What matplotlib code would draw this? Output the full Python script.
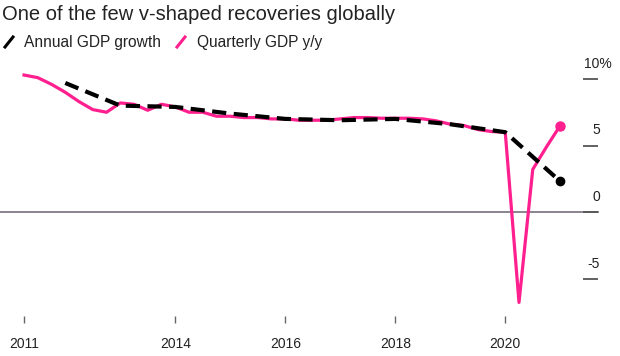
import matplotlib
matplotlib.use("Agg")
import matplotlib.pyplot as plt
from matplotlib.lines import Line2D
import numpy as np

plt.rcParams['font.family'] = ['Liberation Sans', 'DejaVu Sans']

# ---- data ----
quarter_years = [2011]*4 + [2012]*4 + [2013]*4 + [2014]*4 + [2015]*4 + [2016]*4 + \
                [2017]*4 + [2018]*4 + [2019]*4 + [2020]*4
quarter_num = [1, 2, 3, 4] * 10
quarterly_gdp = [10.3, 10.1, 9.6, 9.0,
                 8.3, 7.7, 7.5, 8.2,
                 8.1, 7.65, 8.1, 7.9,
                 7.5, 7.5, 7.2, 7.2,
                 7.1, 7.1, 7.0, 7.0,
                 6.9, 6.9, 6.9, 7.0,
                 7.1, 7.1, 7.05, 7.05,
                 7.05, 7.0, 6.85, 6.6,
                 6.5, 6.2, 6.05, 6.0,
                 -6.8, 3.2, 4.9, 6.5]
annual_years = [2011, 2012, 2013, 2014, 2015, 2016, 2017, 2018, 2019, 2020]
annual_gdp = [9.7, 8.0, 7.9, 7.4, 7.0, 6.9, 7.0, 6.6, 6.0, 2.3]
xtick_pos = [2011.25, 2014, 2016, 2018, 2020]
xtick_labels = ['2011', '2014', '2016', '2018', '2020']
ytick_vals = [10, 5, 0, -5]
ytick_labels = ['10%', '5', '0', '-5']

PINK = '#ff1f8f'
TXT = '#222222'

# quarter-end / year-end positions
qx = np.array(quarter_years) + np.array(quarter_num) * 0.25
ax_x = np.array(annual_years) + 1.0

W, H = 620, 356
fig = plt.figure(figsize=(W/100, H/100), dpi=100)
ax_bottom_px = 316
ax = fig.add_axes([0, (H - ax_bottom_px) / H, 1, ax_bottom_px / H])
ax.set_facecolor('none')
fig.patch.set_facecolor('white')

pxu = 55.0  # px per year
x0 = 2011.25 - 24 / pxu
ax.set_xlim(x0, x0 + W / pxu)
ppu = 13.3  # px per pct
ax.set_ylim(-(ax_bottom_px - 212) / ppu, 212 / ppu)

for s in ax.spines.values():
    s.set_visible(False)

# zero line
zero_end = (598) / W
ax.axhline(0, xmin=0, xmax=zero_end, color='#8a8490', lw=1.4, zorder=1)

# y tick marks + labels on right
ytr = ax.get_yaxis_transform()
for v, lab in zip(ytick_vals, ytick_labels):
    ax.plot([583 / W, 598 / W], [v, v], transform=ytr, color='#555555', lw=1.3,
            solid_capstyle='butt', clip_on=False)
    if lab.endswith('%'):
        ax.text(584 / W, v + 15 / ppu, lab, transform=ytr, ha='left', va='center',
                fontsize=10, color=TXT)
    else:
        ax.text(600 / W, v + 15 / ppu, lab, transform=ytr, ha='right', va='center',
                fontsize=10, color=TXT)
ax.set_yticks([])

# lines
ax.plot(qx, quarterly_gdp, color=PINK, lw=2.3, zorder=3, solid_joinstyle='round')
ax.plot(qx[-1], quarterly_gdp[-1], 'o', color=PINK, ms=6.5, zorder=4, clip_on=False)
ax.plot(ax_x, annual_gdp, color='black', lw=3.0, ls=(0, (3.4, 1.8)), zorder=5)
ax.plot(ax_x[-1], annual_gdp[-1], 'o', color='black', ms=6, zorder=6, clip_on=False)

ax.set_xticks(xtick_pos, xtick_labels)
ax.tick_params(axis='x', length=5, width=1, color='#666666', pad=10,
               labelsize=10, labelcolor=TXT)

# title and legend
fig.text(2 / W, 1 - 15 / H, 'One of the few v-shaped recoveries globally',
         ha='left', va='center', fontsize=14.5, color=TXT)
leg_y = 42
fig.add_artist(Line2D([5 / W, 13 / W], [1 - (leg_y + 5) / H, 1 - (leg_y - 5) / H],
                      color='black', lw=2.2, transform=fig.transFigure))
fig.text(24 / W, 1 - leg_y / H, 'Annual GDP growth', ha='left', va='center',
         fontsize=11.2, color=TXT)
fig.add_artist(Line2D([177 / W, 185 / W], [1 - (leg_y + 5) / H, 1 - (leg_y - 5) / H],
                      color=PINK, lw=2.2, transform=fig.transFigure))
fig.text(197 / W, 1 - leg_y / H, 'Quarterly GDP y/y', ha='left', va='center',
         fontsize=11.2, color=TXT)

fig.savefig('out.png', dpi=100)
